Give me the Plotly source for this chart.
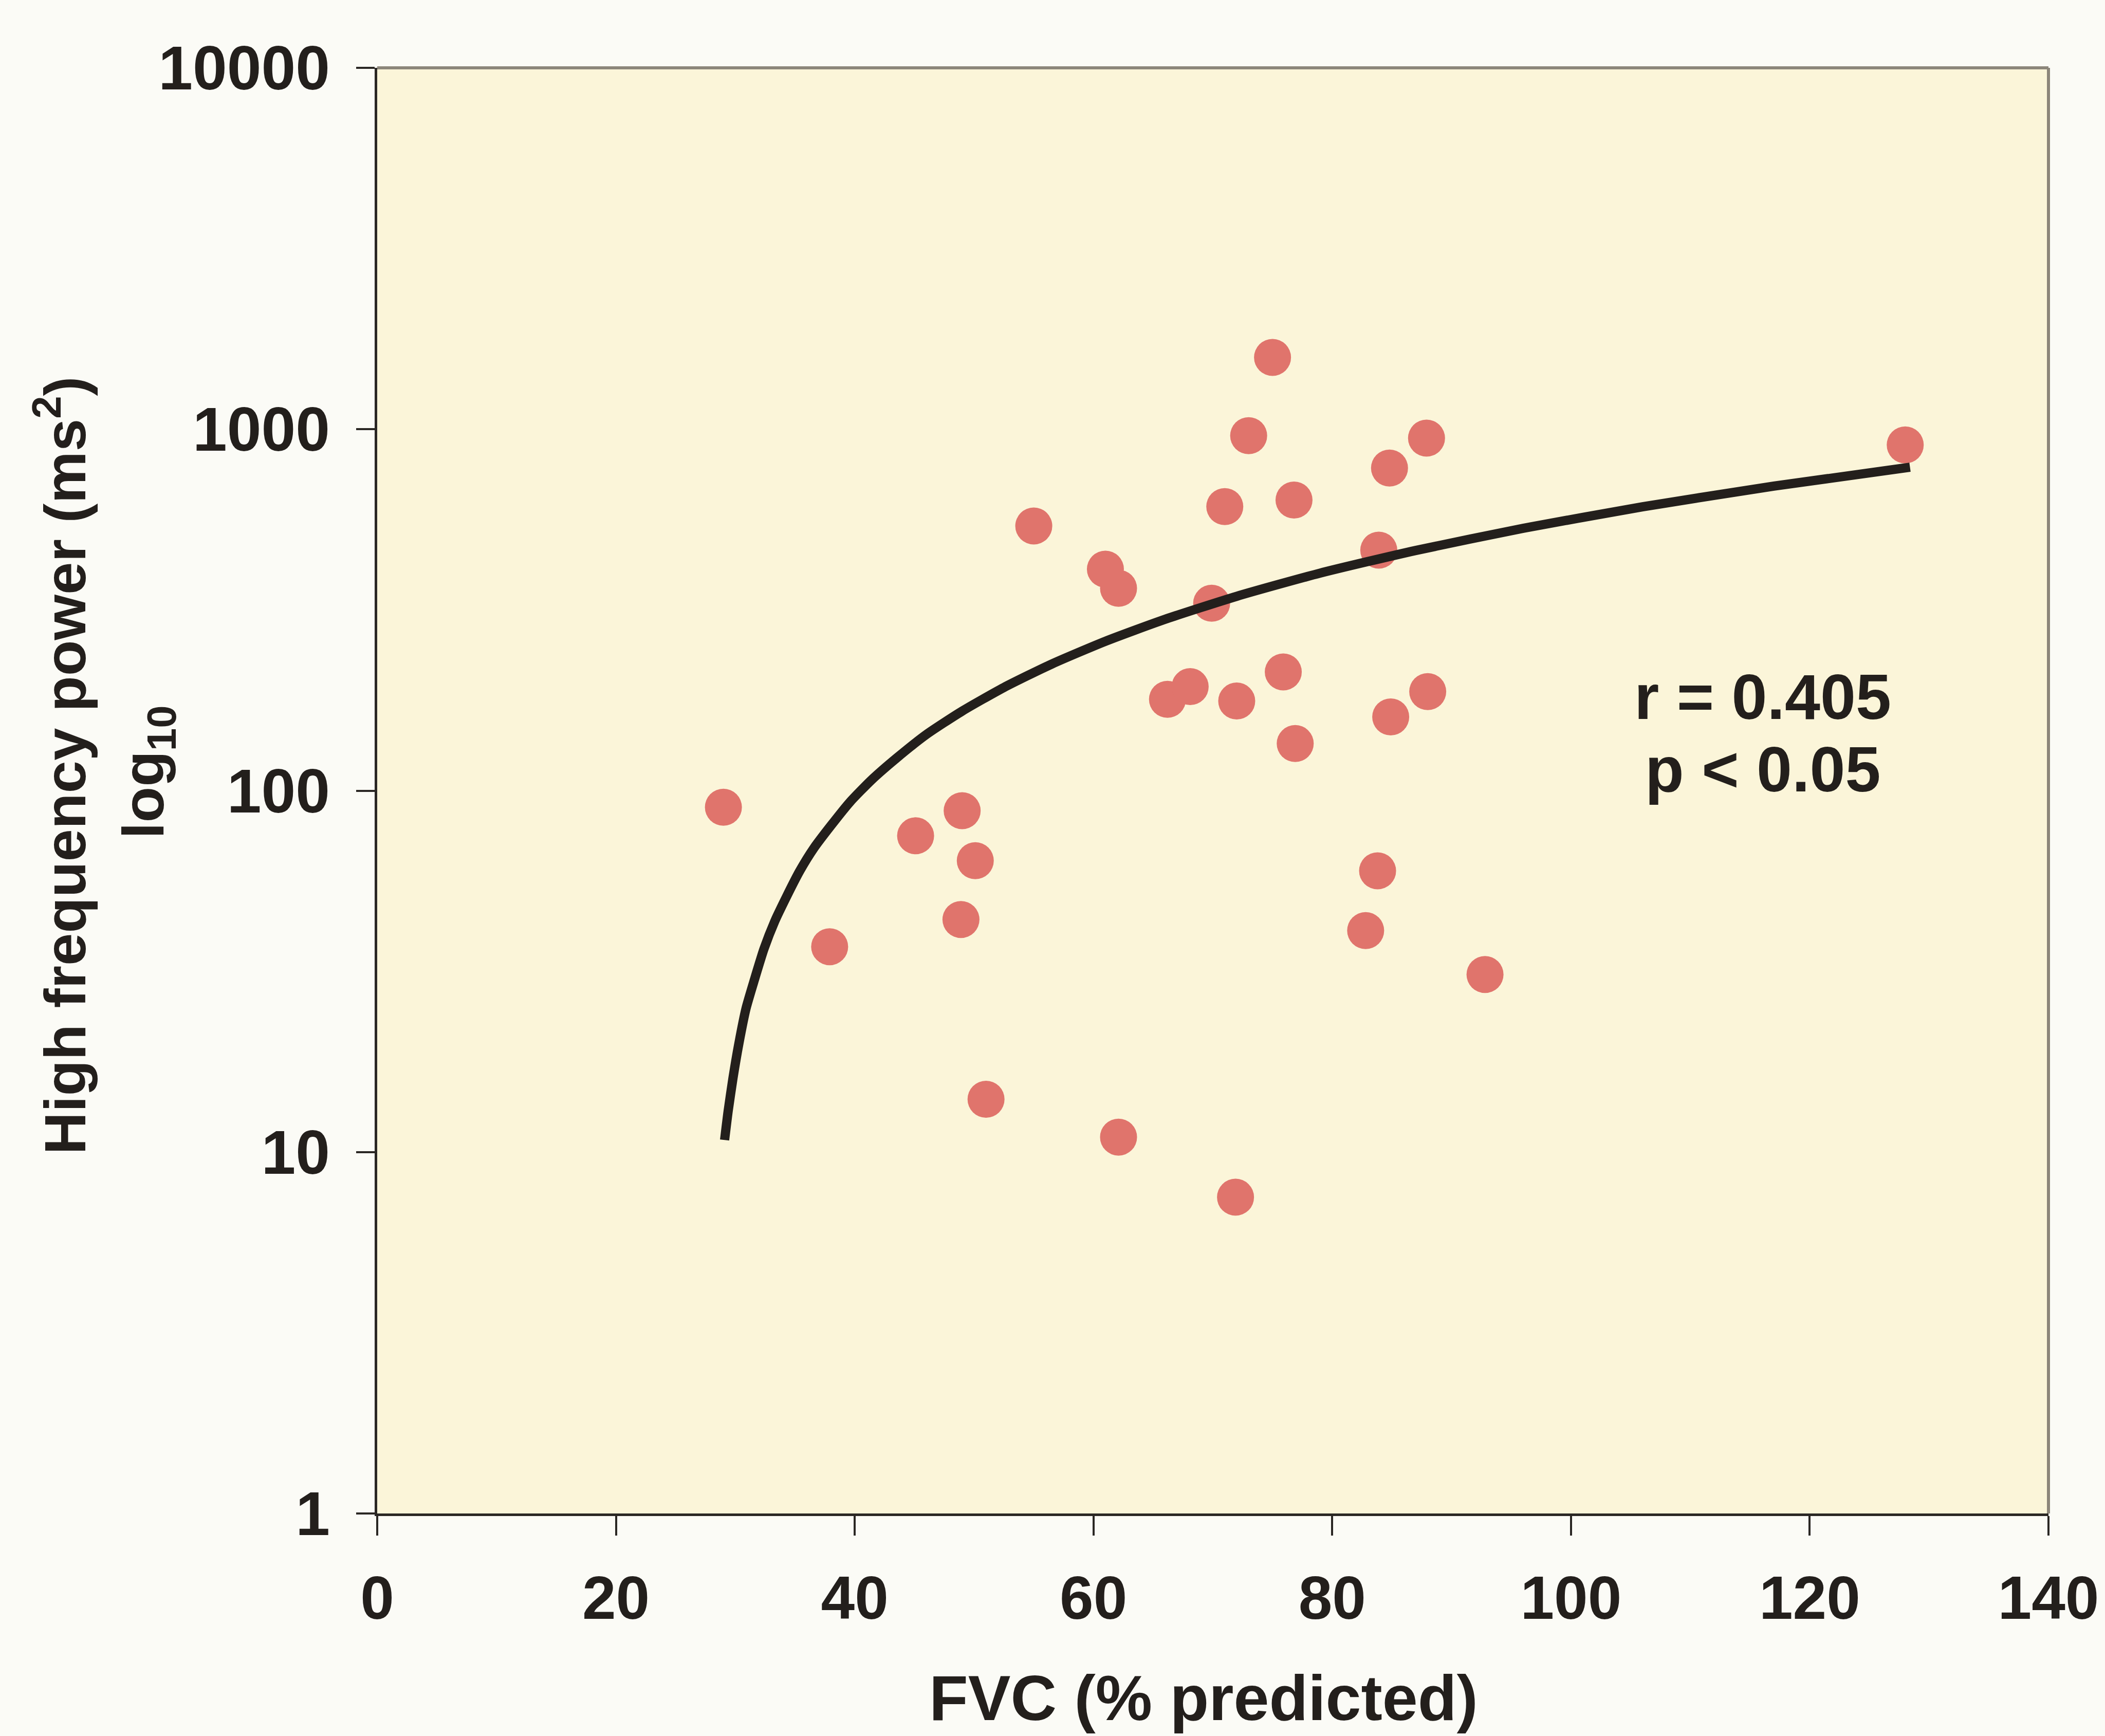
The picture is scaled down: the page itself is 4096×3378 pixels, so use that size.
import plotly.graph_objects as go

# ---- data ----
fvc_pct = [29.0, 37.9, 45.1, 49.0, 50.1, 48.9, 51.0, 55.0, 61.0, 62.1, 62.1,
           66.2, 68.1, 69.9, 71.0, 72.0, 71.9, 73.0, 75.0, 75.9, 76.8, 76.9,
           82.8, 83.8, 83.9, 84.8, 84.9, 87.9, 88.0, 92.8, 128.0]
hf_power = [90, 37, 75, 88, 64, 44, 14, 540, 410, 363, 11,
            179, 194, 330, 611, 177, 7.5, 960, 1580, 213, 637, 135,
            41, 60, 463, 781, 160, 945, 188, 31, 905]

# regression curve, points
trend_x = [29.1, 29.4, 29.8, 30.3, 30.9, 31.6, 32.4, 33.3, 34.3, 35.4,
           36.6, 38.0, 39.6, 41.4, 43.5, 46.0, 49.0, 52.5, 56.5, 61.0,
           66.0, 72.0, 79.0, 87.0, 96.0, 106.0, 117.0, 128.4]
trend_y = [10.8, 13, 16, 20, 25, 30, 36.5, 43.5, 51, 60,
           69.5, 80, 93, 107, 123, 143, 166, 193, 224, 259,
           298, 345, 400, 462, 532, 610, 696, 785]

x_ticks = [0, 20, 40, 60, 80, 100, 120, 140]
y_ticks = [1, 10, 100, 1000, 10000]
y_tick_text = ["1", "10", "100", "1000", "10000"]

x_title = "FVC (% predicted)"
y_title = "High frequency power (ms<sup>2</sup>)"
y_subtitle = "log<sub>10</sub>"
stats_r = "r = 0.405"
stats_p = "p < 0.05"

FONT = "Liberation Sans, Arial, sans-serif"
INK = "#231f1c"

fig = go.Figure()
fig.add_trace(go.Scatter(
    x=fvc_pct, y=hf_power, mode="markers",
    marker=dict(size=72, color="#E0746C", line=dict(width=0)),
    showlegend=False, hoverinfo="x+y"))
fig.add_trace(go.Scatter(
    x=trend_x, y=trend_y, mode="lines",
    line=dict(color=INK, width=18, shape="spline", smoothing=0.6),
    showlegend=False, hoverinfo="skip"))

fig.update_layout(
    width=4096, height=3378,
    margin=dict(l=734, r=110, t=132, b=433, autoexpand=False),
    paper_bgcolor="#FBFBF6",
    plot_bgcolor="#FBF5D9",
    font=dict(family=FONT, color=INK, size=120, weight="bold"),
    xaxis=dict(
        range=[0, 140], tickvals=x_ticks, showgrid=False, zeroline=False,
        showline=True, linecolor="#2a2724", linewidth=5,
        ticks="outside", ticklen=38, tickwidth=4, tickcolor="#2a2724",
        tickfont=dict(family=FONT, size=118, color=INK, weight="bold"),
        ticklabelstandoff=20, ticklabeloverflow="allow",
    ),
    yaxis=dict(
        type="log", range=[0, 4], tickvals=y_ticks, ticktext=y_tick_text,
        showgrid=False, zeroline=False,
        showline=True, linecolor="#2a2724", linewidth=5,
        ticks="outside", ticklen=36, tickwidth=4, tickcolor="#2a2724",
        tickfont=dict(family=FONT, size=120, color=INK, weight="bold"),
        ticklabelstandoff=27, ticklabeloverflow="allow",
    ),
    shapes=[
        dict(type="line", xref="paper", yref="paper", x0=0, x1=1, y0=1, y1=1,
             line=dict(color="#8c867a", width=6)),
        dict(type="line", xref="paper", yref="paper", x0=1, x1=1, y0=0, y1=1,
             line=dict(color="#8c867a", width=6)),
    ],
    annotations=[
        dict(text=x_title, xref="paper", yref="paper", x=0.4945, y=-0.1276,
             xanchor="center", yanchor="middle", showarrow=False,
             font=dict(family=FONT, size=124, color=INK, weight="bold")),
        dict(text=y_title, xref="paper", yref="paper", x=-0.1893, y=0.5176,
             xanchor="center", yanchor="middle", textangle=-90, showarrow=False,
             font=dict(family=FONT, size=114, color=INK, weight="bold")),
        dict(text=y_subtitle, xref="paper", yref="paper", x=-0.1374, y=0.513,
             xanchor="center", yanchor="middle", textangle=-90, showarrow=False,
             font=dict(family=FONT, size=114, color=INK, weight="bold")),
        dict(text=stats_r, xref="paper", yref="paper", x=0.829, y=0.5649,
             xanchor="center", yanchor="middle", showarrow=False,
             font=dict(family=FONT, size=124, color=INK, weight="bold")),
        dict(text=stats_p, xref="paper", yref="paper", x=0.829, y=0.5148,
             xanchor="center", yanchor="middle", showarrow=False,
             font=dict(family=FONT, size=124, color=INK, weight="bold")),
    ],
)

fig.write_html("out.html")
